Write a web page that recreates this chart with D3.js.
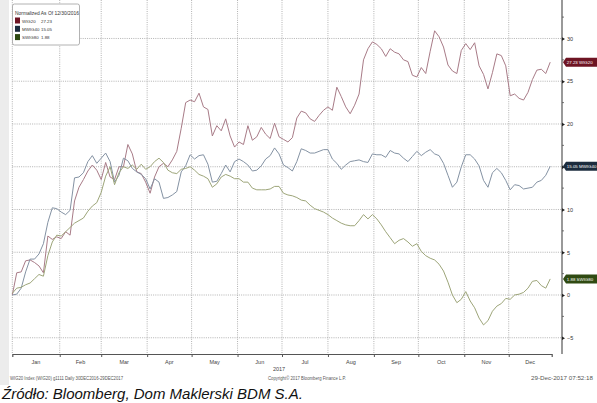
<!DOCTYPE html>
<html><head><meta charset="utf-8">
<script src="https://cdn.jsdelivr.net/npm/d3@7"></script>
<style>
body{margin:0;background:#fff;}
svg{display:block;}
</style></head>
<body>
<svg id="c" width="597" height="403"></svg>
<script>
// ---- data ----
const startDate = "2016-12-30";
const endDate = "2017-12-29";
const stepDays = 3;
const months = ["Jan","Feb","Mar","Apr","May","Jun","Jul","Aug","Sep","Oct","Nov","Dec"];
const yTicks = [30,25,20,15,10,5,0,-5];
const hiddenTickLabels = [15];
const seriesNames = ["WIG20","MWIG40","SWIG80"];
const lastValues = ["27.23","15.05","1.88"];
const wig20 = [0,2.6,2.7,4.0,4.1,3.8,3.4,2.6,6.9,6.5,6.8,6.6,7.4,7.0,11.0,12.6,13.5,14.5,15.2,14.6,
13.5,15.5,13.8,13.5,15.0,15.0,17.6,16.5,14.4,14.2,13.2,11.9,13.8,15.0,15.4,15.0,15.8,16.8,19.5,22.5,
22.8,22.6,23.6,22.0,21.7,18.6,19.8,19.2,20.6,18.6,17.3,17.9,17.6,19.8,18.1,18.5,19.6,18.8,18.3,20.1,
18.5,18.2,17.9,18.4,20.7,21.5,21.3,20.6,20.3,21.0,21.6,22.0,21.6,24.3,23.2,22.0,21.2,22.2,23.5,27.5,
28.8,29.6,29.3,28.8,27.9,28.8,28.4,28.2,27.5,27.3,25.7,25.5,26.6,25.9,28.5,30.9,30.2,29.0,26.9,26.2,
25.9,28.6,29.4,28.7,29.5,26.8,25.8,24.1,26.0,28.2,28.0,26.8,23.3,23.5,23.0,22.8,23.7,25.2,26.3,26.4,
25.9,27.23];
const mwig40 = [0,0.1,0.8,2.7,4.2,4.2,4.8,6.0,8.5,10.2,10.1,9.7,9.4,9.9,13.7,13.8,14.3,15.6,16.3,15.4,
16.0,16.6,15.6,13.2,14.0,16.0,15.7,14.8,14.4,14.1,13.6,12.4,13.6,13.2,11.3,11.4,11.7,12.1,14.4,15.1,
16.4,15.9,16.3,16.4,15.3,13.2,13.3,14.2,15.2,14.4,15.6,15.9,15.6,15.2,14.5,14.6,15.1,15.9,16.3,17.2,
16.5,15.2,14.9,14.5,15.6,17.1,16.9,16.6,16.6,16.8,17.0,17.0,15.9,15.4,14.7,15.2,15.6,15.7,15.8,15.6,
15.5,16.5,16.4,16.4,16.1,16.9,16.6,16.5,16.0,15.6,16.2,16.8,16.3,16.7,17.0,16.5,16.3,15.4,14.0,12.6,
13.2,15.0,16.4,16.4,15.9,15.1,13.4,12.6,14.3,14.8,14.3,13.4,12.3,12.9,12.8,12.4,12.5,12.6,13.2,13.4,
14.0,15.05];
const swig80 = [0.2,0.8,0.9,1.2,1.4,1.9,2.4,2.2,4.6,6.2,7.0,6.9,7.4,7.9,8.4,8.7,9.0,9.8,10.4,10.8,
12.0,13.9,15.0,12.9,14.3,15.0,14.8,15.2,14.7,15.3,14.7,15.0,15.6,16.0,15.5,14.6,14.3,14.2,14.7,14.8,
15.0,14.6,14.1,13.9,13.6,12.6,13.0,13.8,14.1,13.9,13.6,13.6,13.2,13.2,12.5,12.3,12.3,12.3,12.4,12.7,
12.7,11.9,11.7,11.6,11.4,11.1,11.0,10.5,10.1,9.9,9.7,9.4,9.0,8.7,8.4,8.2,8.1,8.1,8.7,9.4,
8.9,9.4,8.9,8.2,7.4,6.7,6.0,6.4,6.6,6.2,5.7,6.0,5.1,4.6,4.3,4.1,3.6,2.8,1.5,0.0,
-0.9,-0.5,0.4,-0.7,-1.5,-2.7,-3.5,-3.0,-1.9,-1.3,-1.0,-0.4,-0.5,0.0,0.1,0.3,0.8,1.6,1.7,1.1,
0.8,1.88];

// ---- drawing ----
const svg = d3.select("#c");
const L = 12.3, R = 562, T = 0, B = 354;
const parse = d3.timeParse("%Y-%m-%d");
const d0 = parse(startDate), d1 = parse(endDate);
const dates = wig20.map((_, i) => d3.timeDay.offset(d0, stepDays * i));
const x = d3.scaleTime().domain([d0, d1]).range([L, 551.7]);
const y = d3.scaleLinear().domain([-6.9, 34.5]).range([B, T]);
const FONT = "'Liberation Sans',Arial,sans-serif";

// left grey strip
svg.append("rect").attr("x",0).attr("y",0).attr("width",9).attr("height",385).attr("fill","#ececec");

// gridlines
const grid = [d0].concat(d3.range(1,12).map(m => d3.timeDay.offset(new Date(2017, m, 1), -1)));
const g = svg.append("g");
g.selectAll("line.vg").data(grid).join("line")
  .attr("x1", d => x(d)).attr("x2", d => x(d)).attr("y1", T).attr("y2", B)
  .attr("stroke","#a0a0a0").attr("stroke-width",0.8).attr("stroke-dasharray","1,1.2");
g.selectAll("line.hg").data(yTicks).join("line")
  .attr("x1", L).attr("x2", R).attr("y1", d => y(d)).attr("y2", d => y(d))
  .attr("stroke","#a0a0a0").attr("stroke-width",0.8).attr("stroke-dasharray","1,1.2");

// bottom axis
const xAxis = d3.axisBottom(x).tickValues(grid.slice(1)).tickSize(3).tickFormat("");
const xa = svg.append("g").attr("transform",`translate(0,${B})`).call(xAxis);
xa.select(".domain").attr("stroke","#555").attr("stroke-width",1.2);
xa.selectAll(".tick line").attr("stroke","#555");
const bounds = grid.concat([d1]);
svg.append("g").selectAll("text").data(months).join("text")
  .attr("x", (m,i) => (x(bounds[i]) + x(bounds[i+1]))/2)
  .attr("y", 364).attr("text-anchor","middle")
  .attr("font-family",FONT).attr("font-size",5.5).attr("fill","#444").text(d => d);
svg.append("text").attr("x",279).attr("y",371).attr("text-anchor","middle")
  .attr("font-family",FONT).attr("font-size",5.5).attr("fill","#444").text("2017");

// right axis
const yAxis = d3.axisRight(y).tickValues(yTicks).tickSize(0)
  .tickFormat(d => hiddenTickLabels.includes(d) ? "" : d3.format("d")(d));
const ya = svg.append("g").attr("transform",`translate(${R},0)`).call(yAxis);
ya.select(".domain").attr("stroke","#555").attr("stroke-width",1.2).attr("d",`M0,${T}V${B}`);
ya.selectAll(".tick text").attr("x",5).attr("font-family",FONT).attr("font-size",5.5).attr("fill","#333");
ya.selectAll(".tick").append("path").attr("d","M0,-1.8L3,0L0,1.8Z").attr("fill","#222");
const minor = d3.range(-5, 34, 2.5).filter(v => v % 5 !== 0);
svg.append("g").selectAll("line").data(minor).join("line")
  .attr("x1",R).attr("x2",R+2).attr("y1",d=>y(d)).attr("y2",d=>y(d)).attr("stroke","#555").attr("stroke-width",0.8);

// lines
const lineColors = ["#a87b87","#8492a3","#9da579"];
const all = [wig20, mwig40, swig80];
const line = d3.line().x((d,i) => x(dates[i])).y(d => y(d));
all.forEach((s, k) => {
  svg.append("path").datum(s).attr("d", line).attr("fill","none")
    .attr("stroke", lineColors[k]).attr("stroke-width",1).attr("stroke-linejoin","round");
});

// right value labels
const tagColors = ["#6e1423","#1c2c3e","#2f4a12"];
all.forEach((s, k) => {
  const yy = y(s[s.length-1]);
  const gg = svg.append("g").attr("transform",`translate(${R},${yy})`);
  gg.append("path").attr("d","M1,0L4,-4.5H35V4.5H4Z").attr("fill",tagColors[k]);
  gg.append("text").attr("x",4.8).attr("y",1.8).attr("font-family",FONT).attr("font-size",4.4)
    .attr("fill","#fff").text(lastValues[k] + " " + seriesNames[k]);
});

// legend
const lg = svg.append("g");
lg.append("rect").attr("x",12.5).attr("y",4).attr("width",67).attr("height",41).attr("rx",2)
  .attr("fill","#fff").attr("stroke","#a0a0a0").attr("stroke-width",0.8);
lg.append("text").attr("x",15).attr("y",14.5).attr("font-family",FONT).attr("font-size",4.9)
  .attr("fill","#333").text("Normalized As Of 12/30/2016");
seriesNames.forEach((n,k) => {
  const yy = 20.5 + k*8.3;
  lg.append("rect").attr("x",15).attr("y",yy-3).attr("width",5).attr("height",6).attr("fill",tagColors[k]);
  lg.append("text").attr("x",22).attr("y",yy+2).attr("font-family",FONT).attr("font-size",4.4)
    .attr("fill","#333").text(n);
  lg.append("text").attr("x",41).attr("y",yy+2).attr("font-family",FONT).attr("font-size",4.4)
    .attr("fill","#333").text(lastValues[k]);
});

// footer
const ft = (t, xx, w) => svg.append("text").attr("x",xx).attr("y",380)
  .attr("font-family",FONT).attr("font-size",5.5).attr("fill","#555")
  .attr("textLength",w).attr("lengthAdjust","spacingAndGlyphs").text(t);
ft("WIG20 Index (WIG20) g1111  Daily 30DEC2016-29DEC2017", 10, 113);
ft("Copyright\u00A9 2017 Bloomberg Finance L.P.", 268, 78);
ft("29-Dec-2017 07:52:18", 531, 62);
svg.append("text").attr("x",2).attr("y",399).attr("font-family",FONT)
  .attr("font-style","italic").attr("font-size",15).attr("fill","#111")
  .text("Źródło: Bloomberg, Dom Maklerski BDM S.A.");
</script>
</body></html>
